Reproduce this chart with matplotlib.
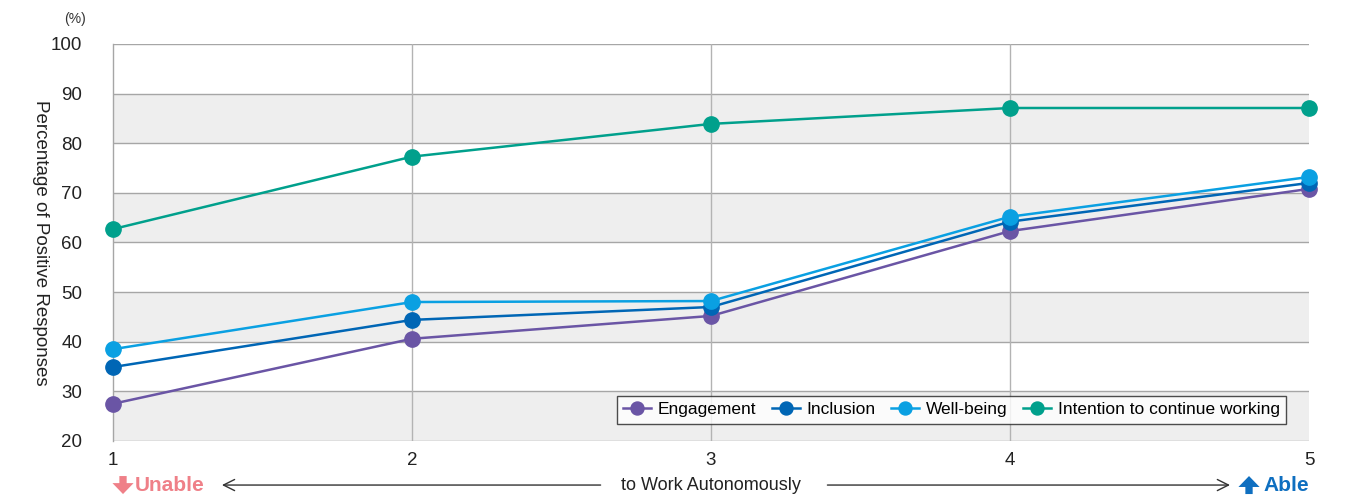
import numpy as np
import matplotlib.pyplot as plt
import matplotlib.transforms as mtransforms

plt.rcParams['font.family'] = ['Liberation Sans', 'DejaVu Sans']

# data
levels = [1, 2, 3, 4, 5]
engagement = [27.5, 40.6, 45.2, 62.3, 70.8]
inclusion = [34.9, 44.4, 47.0, 64.2, 72.0]
wellbeing = [38.5, 48.0, 48.2, 65.2, 73.2]
intention = [62.7, 77.3, 83.9, 87.1, 87.1]

series_names = ['Engagement', 'Inclusion', 'Well-being', 'Intention to continue working']
series_values = [engagement, inclusion, wellbeing, intention]
series_colors = ['#6a55a5', '#0066b5', '#0aa0e2', '#00a08c']
y_ticks = [20, 30, 40, 50, 60, 70, 80, 90, 100]

fig = plt.figure(figsize=(13.47, 5.01), dpi=100)
ax = fig.add_axes([0.0839, 0.1198, 0.8879, 0.7924])

# alternating grey bands
for lo in [20, 40, 60, 80]:
    ax.axhspan(lo, lo + 10, color='#eeeeee', zorder=0, lw=0)

for yv in y_ticks:
    ax.axhline(yv, color='#a6a6a6', lw=1.0, zorder=1)
for xv in levels[1:-1]:
    ax.axvline(xv, color='#b3b3b3', lw=1.0, zorder=1)

for name, vals, col in zip(series_names, series_values, series_colors):
    ax.plot(levels, vals, color=col, lw=1.8, marker='o', ms=11,
            label=name, zorder=3, clip_on=False)

ax.set_xlim(1, 5)
ax.set_ylim(20, 100)
ax.set_xticks(levels)
ax.set_yticks(y_ticks)
ax.tick_params(axis='both', length=0, labelsize=13.5, colors='#222222')
ax.tick_params(axis='x', pad=8)
ax.tick_params(axis='y', pad=22)
for s in ['top', 'right', 'bottom']:
    ax.spines[s].set_visible(False)
ax.spines['left'].set_color('#a6a6a6')
ax.spines['left'].set_linewidth(1.0)

ax.set_ylabel('Percentage of Positive Responses', rotation=270, fontsize=13.5,
              color='#222222')
ax.yaxis.set_label_coords(-0.068, 0.5)
fig.text(0.056, 0.962, '(%)', fontsize=10, color='#333333', ha='center', va='center')

leg = ax.legend(loc='lower right', ncol=4, fontsize=12.5, frameon=True,
                fancybox=False, edgecolor='#222222', handlelength=1.6,
                handletextpad=0.4, columnspacing=0.9, borderpad=0.35,
                bbox_to_anchor=(0.988, 0.022), markerscale=0.85)
leg.get_frame().set_linewidth(1.0)

# bottom axis caption with arrows
ybot = -0.111
xt = ax.get_xaxis_transform()


def offs(dx, dy):
    return mtransforms.offset_copy(xt, fig=fig, x=dx, y=dy, units='dots')


block = 'simple,head_length=0.75,head_width=1.45,tail_width=0.5'
# down arrow (Unable)
ax.annotate('', xy=(1.0, ybot), xycoords=offs(10, -9),
            xytext=(1.0, ybot), textcoords=offs(10, 9),
            arrowprops=dict(arrowstyle=block, color='#ef8088', lw=0,
                            mutation_scale=10.5, shrinkA=0, shrinkB=0),
            annotation_clip=False)
ax.text(1.0, ybot, 'Unable', transform=offs(22, 0),
        ha='left', va='center', fontsize=15, fontweight='bold', color='#ef8088')
# up arrow (Able)
ax.annotate('', xy=(5.0, ybot), xycoords=offs(-60, 9),
            xytext=(5.0, ybot), textcoords=offs(-60, -9),
            arrowprops=dict(arrowstyle=block, color='#0f6fc0', lw=0,
                            mutation_scale=10.5, shrinkA=0, shrinkB=0),
            annotation_clip=False)
ax.text(5.0, ybot, 'Able', transform=xt, ha='right',
        va='center', fontsize=15, fontweight='bold', color='#0f6fc0')

ax.text(3.0, ybot, 'to Work Autonomously', transform=xt,
        ha='center', va='center', fontsize=13, color='#222222')
ax.annotate('', xy=(1.355, ybot), xytext=(2.64, ybot), xycoords=xt, textcoords=xt,
            arrowprops=dict(arrowstyle='->', lw=1.0, color='#333333',
                            mutation_scale=20), annotation_clip=False)
ax.annotate('', xy=(4.745, ybot), xytext=(3.38, ybot), xycoords=xt, textcoords=xt,
            arrowprops=dict(arrowstyle='->', lw=1.0, color='#333333',
                            mutation_scale=20), annotation_clip=False)

fig.savefig('out.png', dpi=100)
